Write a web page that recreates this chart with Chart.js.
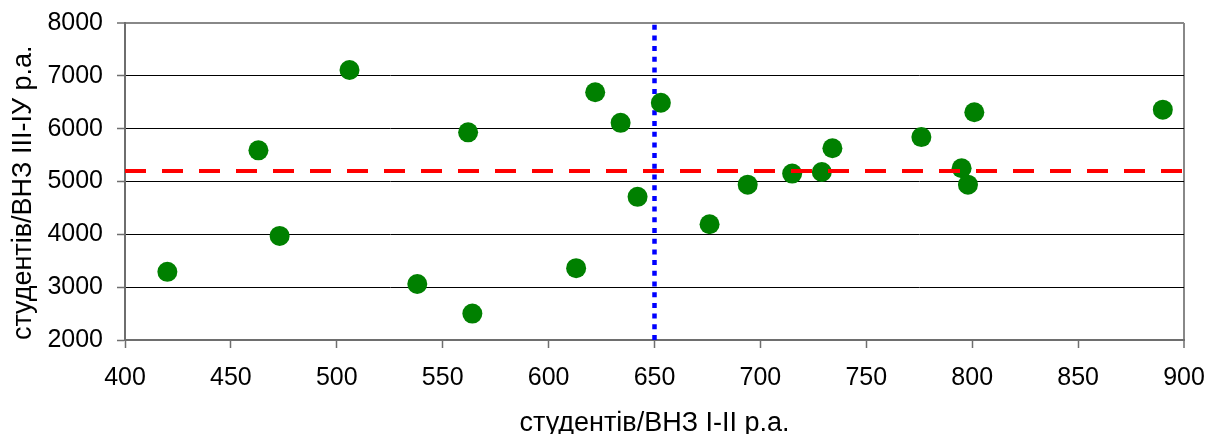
<!DOCTYPE html>
<html>
<head>
    <meta charset="utf-8">
    <title>студентів/ВНЗ</title>
    <style>
        html, body { margin: 0; padding: 0; background: #fff; }
        #wrap { width: 1210px; height: 434px; }
    </style>
    <script src="https://cdn.jsdelivr.net/npm/chart.js@4/dist/chart.umd.min.js"></script>
</head>
<body>
    <div id="wrap"><canvas id="chartCanvas" width="1210" height="434"></canvas></div>
    <script>
        // Werte (x: студентів/ВНЗ I-II р.а., y: студентів/ВНЗ III-IУ р.а.)
        const xValues = [420, 463, 473, 506, 538, 562, 564, 613, 622, 634, 642,
                         653, 676, 694, 715, 729, 734, 776, 795, 798, 801, 890];
        const yValues = [3290, 5590, 3970, 7110, 3060, 5930, 2500, 3360, 6690, 6110, 4710,
                         6490, 4190, 4940, 5150, 5180, 5630, 5840, 5250, 4940, 6310, 6360];

        // Mittelwerte (Linien)
        const meanX = 650;
        const meanY = 5200;

        const xTicks = [400, 450, 500, 550, 600, 650, 700, 750, 800, 850, 900];
        const yTicks = [2000, 3000, 4000, 5000, 6000, 7000, 8000];

        const xTitle = 'студентів/ВНЗ I-II р.а.';
        const yTitle = 'студентів/ВНЗ III-IУ р.а.';

        const xMin = xTicks[0], xMax = xTicks[xTicks.length - 1];
        const yMin = yTicks[0], yMax = yTicks[yTicks.length - 1];

        const points = xValues.map((x, i) => ({ x: x, y: yValues[i] }));

        const fontFamily = '"Liberation Sans", Arial, sans-serif';

        // Achsen-Padding entfernen, damit nur layout.padding zählt
        function noPadding(scale) {
            scale.paddingTop = 0;
            scale.paddingBottom = 0;
            scale.paddingLeft = 0;
            scale.paddingRight = 0;
        }

        const chart = new Chart(document.getElementById('chartCanvas').getContext('2d'), {
            type: 'scatter',
            data: {
                datasets: [{
                    label: 'mean y',
                    type: 'line',
                    data: [{ x: xMin, y: meanY }, { x: xMax, y: meanY }],
                    borderColor: '#ff0000',
                    borderWidth: 4,
                    borderDash: [21, 16],
                    borderCapStyle: 'butt',
                    pointRadius: 0,
                    fill: false,
                    order: 0
                }, {
                    label: 'ВНЗ',
                    data: points,
                    backgroundColor: '#008000',
                    borderColor: '#008000',
                    borderWidth: 0,
                    pointRadius: 10,
                    pointHoverRadius: 10,
                    order: 1
                }, {
                    label: 'mean x',
                    type: 'line',
                    data: [{ x: meanX, y: yMin }, { x: meanX, y: yMax }],
                    borderColor: '#0000ff',
                    borderWidth: 4.5,
                    borderDash: [5, 5.7],
                    borderCapStyle: 'butt',
                    pointRadius: 0,
                    fill: false,
                    order: 2
                }]
            },
            options: {
                responsive: false,
                animation: false,
                devicePixelRatio: 1,
                events: [],
                layout: {
                    padding: { top: 23, right: 26, left: 0, bottom: 0 }
                },
                plugins: {
                    legend: { display: false },
                    tooltip: { enabled: false }
                },
                scales: {
                    x: {
                        type: 'linear',
                        min: xMin,
                        max: xMax,
                        afterBuildTicks: (scale) => { scale.ticks = xTicks.map(v => ({ value: v })); },
                        afterFit: (scale) => { scale.height = 94; noPadding(scale); },
                        border: { display: true, color: '#6e6e6e', width: 2 },
                        grid: {
                            color: (ctx) => ctx.tick && ctx.tick.value === xMax ? '#888888' : 'rgba(0,0,0,0)',
                            lineWidth: (ctx) => ctx.tick && ctx.tick.value === xMax ? 2 : 1,
                            tickColor: '#6e6e6e',
                            tickWidth: 1.5,
                            tickLength: 8
                        },
                        ticks: {
                            color: '#000',
                            padding: 15,
                            maxRotation: 0,
                            callback: (v) => String(v),
                            font: { family: fontFamily, size: 25 }
                        },
                        title: {
                            display: true,
                            text: xTitle,
                            color: '#000',
                            padding: { top: 0, bottom: -3 },
                            font: { family: fontFamily, size: 27, lineHeight: 1 }
                        }
                    },
                    y: {
                        type: 'linear',
                        min: yMin,
                        max: yMax,
                        afterBuildTicks: (scale) => { scale.ticks = yTicks.map(v => ({ value: v })); },
                        afterFit: (scale) => { scale.width = 125; noPadding(scale); },
                        border: { display: true, color: '#6e6e6e', width: 2 },
                        grid: {
                            color: (ctx) => ctx.tick && ctx.tick.value === yMax ? '#888888' : '#000000',
                            lineWidth: (ctx) => ctx.tick && ctx.tick.value === yMax ? 2 : 1,
                            tickColor: '#6e6e6e',
                            tickWidth: 1.5,
                            tickLength: 8
                        },
                        ticks: {
                            color: '#000',
                            padding: 14,
                            callback: (v) => String(v),
                            font: { family: fontFamily, size: 25 }
                        },
                        title: {
                            display: true,
                            // NBSP am Ende: Titel etwas nach unten schieben wie im Original
                            text: yTitle + '\u00A0\u00A0\u00A0',
                            color: '#000',
                            padding: { top: 10, bottom: 0 },
                            font: { family: fontFamily, size: 27, lineHeight: 1 }
                        }
                    }
                }
            }
        });
    </script>
</body>
</html>
